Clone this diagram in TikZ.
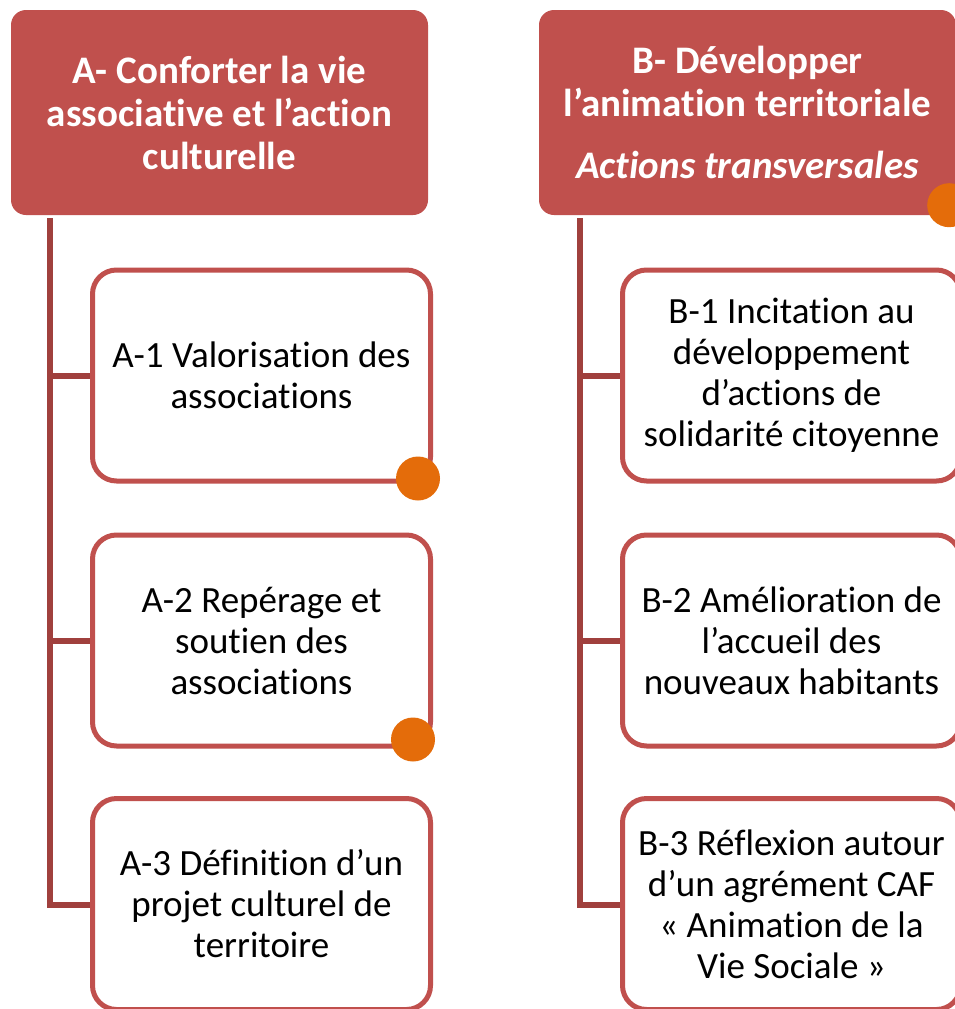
\documentclass[tikz,border=0pt]{standalone}
\usepackage{fontspec}
\setmainfont{Carlito}[Ligatures={NoCommon,NoContextual,NoRare}, Contextuals={NoAlternate}]
\usetikzlibrary{calc}
\definecolor{boxred}{HTML}{C0504D}
\definecolor{linered}{HTML}{A0403D}
\definecolor{dotorange}{HTML}{E46C0A}

\begin{document}
\begin{tikzpicture}[x=1pt, y=-1pt,
    head/.style={rectangle, rounded corners=15pt, fill=boxred, text=white,
      font=\fontsize{39}{43}\selectfont\bfseries, align=center,
      minimum width=417pt, minimum height=205pt, inner sep=0pt},
    item/.style={rectangle, rounded corners=24pt, draw=boxred, line width=5pt, fill=white,
      font=\fontsize{37}{41}\selectfont, align=center,
      minimum width=338pt, minimum height=211pt, inner sep=0pt},
    dot/.style={circle, fill=dotorange, inner sep=0pt, minimum size=44pt},
    spine/.style={draw=linered, line width=5.5pt}]
      \clip (0,0) rectangle (955,1009);

      \node[head] (A) at (219.5,112.5) {A- Conforter la vie\\associative et l’action\\culturelle};
      \node[head] (B) at (747.5,112.5) {B- Développer\\l’animation territoriale\\[19pt]\textit{Actions transversales}};

      \coordinate (sA) at ($(A.south west)+(39,3)$);
      \coordinate (sB) at ($(B.south west)+(41,3)$);

      % branches first, boxes on top
      \coordinate (tA1) at (90,376);
      \coordinate (tA2) at (90,641);
      \coordinate (tA3) at (90,905);
      \coordinate (tB1) at (620,376);
      \coordinate (tB2) at (620,641);
      \coordinate (tB3) at (620,905);
      \draw[spine] (sA) |- (tA1);
      \draw[spine] (sA) |- (tA2);
      \draw[spine] (sA) |- (tA3);
      \draw[spine] (sB) |- (tB1);
      \draw[spine] (sB) |- (tB2);
      \draw[spine] (sB) |- (tB3);

      \node[item] (A1) at (261.5,375.5) {A-1 Valorisation des\\associations};
      \node[item] (A2) at (261.5,640.5) {A-2 Repérage et\\soutien des\\associations};
      \node[item] (A3) at (261.5,904) {A-3 Définition d’un\\projet culturel de\\territoire};
      \node[item] (B1) at (791.5,375.5) {B-1 Incitation au\\développement\\d’actions de\\solidarité citoyenne};
      \node[item] (B2) at (791.5,640.5) {B-2 Amélioration de\\l’accueil des\\nouveaux habitants};
      \node[item] (B3) at (791.5,904) {B-3 Réflexion autour\\d’un agrément CAF\\« Animation de la\\Vie Sociale »};

      \node[dot] (dA1) at ($(A1.south east)+(-15,-5)$) {};
      \node[dot] (dA2) at ($(A2.south east)+(-20,-9)$) {};
      \node[dot] (dB) at ($(B.south east)+(-7,-10)$) {};
\end{tikzpicture}
\end{document}
